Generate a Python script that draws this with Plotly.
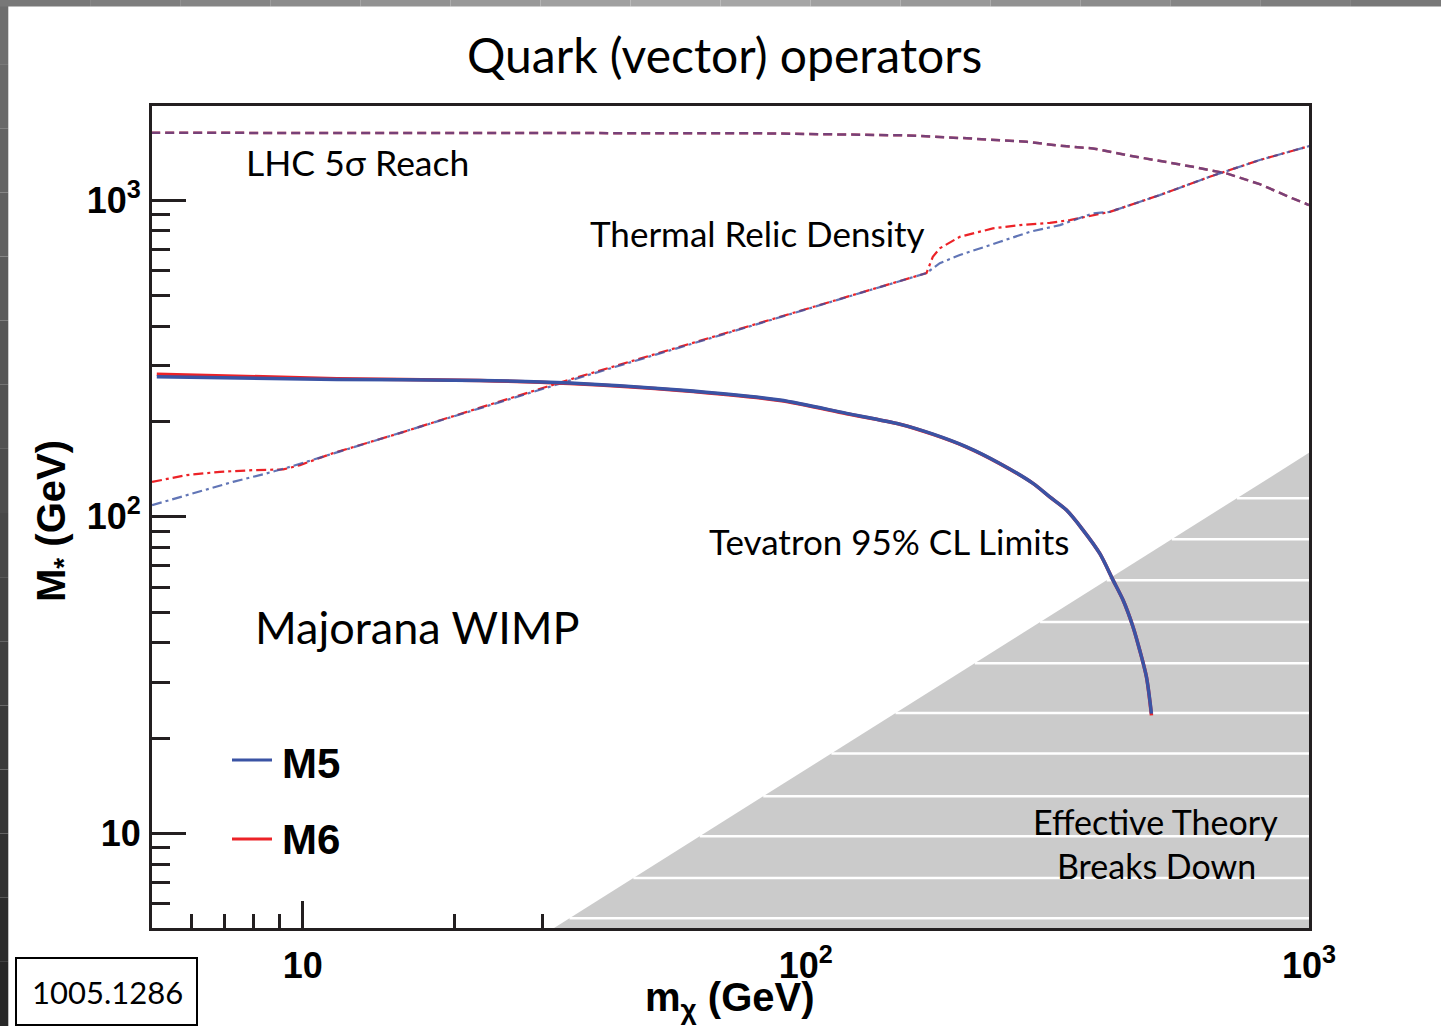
import plotly.graph_objects as go

# ---------------- data ----------------
# LHC 5 sigma reach (dashed)
lhc_x = [5.0, 30, 60, 80, 110, 160, 209, 275, 320, 372, 434, 505, 588, 686, 798, 928, 1000]
lhc_m5_y = [1631, 1631, 1630, 1626, 1614, 1600, 1567, 1528, 1484, 1456, 1387, 1331, 1274, 1214, 1123, 1012, 965]
lhc_m6_y = [1631, 1631, 1630, 1626, 1614, 1600, 1567, 1528, 1484, 1456, 1387, 1331, 1274, 1214, 1123, 1012, 965]

# Thermal relic density (dash-dot)
relic_m6_x = [5.02, 5.88, 6.85, 7.98, 9.15, 9.88, 11.5, 15.6, 21.2, 33.2, 173.7, 178.8, 184.6, 202.3, 235.3, 266.3, 305.5, 334.6, 402, 505, 635, 798, 1000]
relic_m6_y = [128.9, 135.4, 138.7, 140.4, 141.1, 145.6, 158.9, 183.8, 214.5, 268.2, 588.2, 662, 704, 765.6, 814, 833.7, 847.8, 864.7, 918, 1037, 1185, 1338, 1480]
relic_m5_x = [5.02, 5.88, 7.27, 8.48, 9.44, 33.2, 173.7, 184.6, 202.3, 243.1, 278.9, 319.9, 371.8, 402, 505, 635, 798, 1000]
relic_m5_y = [108.8, 117.1, 128.9, 137.1, 143.8, 266.3, 588.2, 632.4, 670.6, 738.5, 794.3, 833.7, 907.8, 918, 1037, 1185, 1338, 1480]

# Tevatron 95% CL limits (solid)
tev_x = [5.13, 11.7, 22.5, 34.0, 56.2, 88.8, 120.5, 153.7, 179.0, 208.6, 242.9, 282.8, 305.3,
         329.6, 355.6, 383.8, 407.9, 427.0, 447.0, 460.9, 475.3, 486.3]
tev_m5_y = [277, 271.5, 269.5, 264.5, 251.2, 233.6, 212.1, 196.2, 182.4, 166.3, 147.4, 127.5, 115.6,
            105.0, 90.8, 76.6, 63.1, 54.6, 44.9, 37.9, 31.2, 23.9]
tev_m6_y = [282, 273, 269.5, 263.5, 250.5, 233.0, 211.5, 196.0, 182.0, 166.0, 147.2, 127.5, 115.5,
            105.0, 90.8, 76.6, 63.1, 54.6, 44.9, 37.9, 31.2, 23.6]

# Effective theory breaks down region boundary (M* = m_chi / 2pi)
eff_x = [25.0, 1000.0]
eff_y = [3.98, 159.2]
# white banding lines inside the grey region
stripe_y = [114.5, 85.0, 63.1, 46.5, 34.5, 24.0, 17.9, 13.1, 9.8, 7.23, 5.40]

x_tickvals = [10, 100, 1000]
x_ticktext = ["10", "10<sup>2</sup>", "10<sup>3</sup>"]
y_tickvals = [10, 100, 1000]
y_ticktext = ["10", "10<sup>2</sup>", "10<sup>3</sup>"]
x_minor = [6, 7, 8, 9, 20, 30, 40, 50, 60, 70, 80, 90, 200, 300, 400, 500, 600, 700, 800, 900]
y_minor = [6, 7, 8, 9, 20, 30, 40, 50, 60, 70, 80, 90, 200, 300, 400, 500, 600, 700, 800, 900]

BLUE = "#3a53a4"
RED = "#ec2227"
GREY = "#cbcbcb"
AX = "#231f20"

# ---------------- geometry helpers ----------------
W, H = 1441, 1026
L, R, T, B = 152, 1309, 106, 928


def px(x):
    return (x - L) / (R - L)


def py(y):
    return (B - y) / (B - T)


fig = go.Figure()

# grey region
fig.add_trace(go.Scatter(
    x=[eff_x[0], eff_x[1], eff_x[1], eff_x[0]],
    y=[eff_y[0], eff_y[1], eff_y[0], eff_y[0]],
    fill="toself", fillcolor=GREY, line=dict(width=0), mode="lines",
    hoverinfo="skip", showlegend=False))

# white stripes through the grey region (start at the boundary line)
sx, sy = [], []
ratio = eff_x[1] / eff_y[1]
for s in stripe_y:
    sx += [s * ratio, eff_x[1], None]
    sy += [s, s, None]
fig.add_trace(go.Scatter(x=sx, y=sy, mode="lines", line=dict(color="white", width=2.5),
                         hoverinfo="skip", showlegend=False))

# LHC reach
fig.add_trace(go.Scatter(x=lhc_x, y=lhc_m6_y, mode="lines", name="M6 LHC",
                         line=dict(color=RED, width=2.5, dash="9px,5px"), showlegend=False))
fig.add_trace(go.Scatter(x=lhc_x, y=lhc_m5_y, mode="lines", name="M5 LHC", opacity=0.65,
                         line=dict(color=BLUE, width=2.5, dash="9px,5px"), showlegend=False))

# thermal relic
fig.add_trace(go.Scatter(x=relic_m6_x, y=relic_m6_y, mode="lines", name="M6 relic",
                         line=dict(color=RED, width=2.2, dash="10px,4px,3px,4px"), showlegend=False))
fig.add_trace(go.Scatter(x=relic_m5_x, y=relic_m5_y, mode="lines", name="M5 relic", opacity=0.8,
                         line=dict(color=BLUE, width=2.2, dash="10px,4px,3px,4px"), showlegend=False))

# Tevatron
fig.add_trace(go.Scatter(x=tev_x, y=tev_m6_y, mode="lines", name="M6 Tevatron",
                         line=dict(color=RED, width=3.5, shape="spline", smoothing=0.8),
                         showlegend=False))
fig.add_trace(go.Scatter(x=tev_x, y=tev_m5_y, mode="lines", name="M5 Tevatron",
                         line=dict(color=BLUE, width=3.5, shape="spline", smoothing=0.8),
                         showlegend=False))

tickfont = dict(family="Liberation Sans, Arial", size=36, color="black", weight="bold")
fig.update_xaxes(type="log", range=[0.7006, 3.0], showgrid=False, zeroline=False,
                 showline=True, linecolor=AX, linewidth=3, mirror=True,
                 ticks="inside", ticklen=27, tickwidth=2.5, tickcolor=AX,
                 tickvals=x_tickvals, ticktext=x_ticktext, tickfont=tickfont,
                 ticklabelstandoff=4, layer="below traces",
                 minor=dict(tickvals=x_minor, ticks="inside", ticklen=14, tickwidth=2.5,
                            tickcolor=AX, showgrid=False))
fig.update_yaxes(type="log", range=[0.7016, 3.2971], showgrid=False, zeroline=False,
                 showline=True, linecolor=AX, linewidth=3, mirror=True,
                 ticks="inside", ticklen=34, tickwidth=2.5, tickcolor=AX,
                 tickvals=y_tickvals, ticktext=y_ticktext, tickfont=tickfont,
                 ticklabelstandoff=1,
                 minor=dict(tickvals=y_minor, ticks="inside", ticklen=18, tickwidth=2.5,
                            tickcolor=AX, showgrid=False))

shapes = []
# page border decorations (grey gradient strips)
n = 16
for i in range(n):
    g = int(110 - (110 - 40) * i / (n - 1))
    shapes.append(dict(type="rect", xref="paper", yref="paper",
                       x0=px(0), x1=px(8.3), y0=py(H * i / n), y1=py(H * (i + 1) / n),
                       fillcolor=f"rgb({g},{g},{g})", line=dict(width=0), layer="above"))
for i in range(n):
    t = i / (n - 1)
    g = int(120 + 50 * (1 - abs(2 * t - 1)))
    shapes.append(dict(type="rect", xref="paper", yref="paper",
                       x0=px(W * i / n), x1=px(W * (i + 1) / n), y0=py(6.5), y1=py(0),
                       fillcolor=f"rgb({g},{g},{g})", line=dict(width=0), layer="above"))
# legend swatches
shapes.append(dict(type="line", xref="paper", yref="paper", x0=px(232), x1=px(272),
                   y0=py(760), y1=py(760), line=dict(color=BLUE, width=3)))
shapes.append(dict(type="line", xref="paper", yref="paper", x0=px(232), x1=px(272),
                   y0=py(839), y1=py(839), line=dict(color=RED, width=3)))
# arXiv box
shapes.append(dict(type="rect", xref="paper", yref="paper", x0=px(16), x1=px(197),
                   y0=py(1025), y1=py(958), line=dict(color="black", width=2)))

LAB = "Lato, Open Sans, sans-serif"


def ann(text, x, y, size, family=LAB, xanchor="center", angle=0):
    return dict(text=text, x=px(x), y=py(y), xref="paper", yref="paper",
                xanchor=xanchor, yanchor="middle", showarrow=False, textangle=angle,
                font=dict(family=family, size=size, color="black"))


annotations = [
    ann("Quark (vector) operators", 724, 54, 48),
    ann("LHC 5\u03c3 Reach", 357, 163, 35.5),
    ann("Thermal Relic Density", 757, 233, 35),
    ann("Tevatron 95% CL Limits", 889, 541, 35),
    ann("Majorana WIMP", 417, 627, 45),
    ann("Effective Theory", 1155, 821, 34),
    ann("Breaks Down", 1156, 865, 34),
    ann("<b>M5</b>", 280, 763, 42, family="Liberation Sans, Arial", xanchor="left"),
    ann("<b>M6</b>", 280, 839, 42, family="Liberation Sans, Arial", xanchor="left"),
    ann("<b>m<sub>\u03c7</sub> (GeV)</b>", 730, 1000, 40, family="Liberation Sans, Arial"),
    ann("<b>M<sub>*</sub> (GeV)</b>", 54, 521, 40, family="Liberation Sans, Arial", angle=-90),
    ann("1005.1286", 107, 992, 31),
]

fig.update_layout(width=W, height=H, margin=dict(l=L, r=W - R, t=T, b=H - B),
                  paper_bgcolor="white", plot_bgcolor="white",
                  shapes=shapes, annotations=annotations, showlegend=False)

fig.write_html("out.html")
